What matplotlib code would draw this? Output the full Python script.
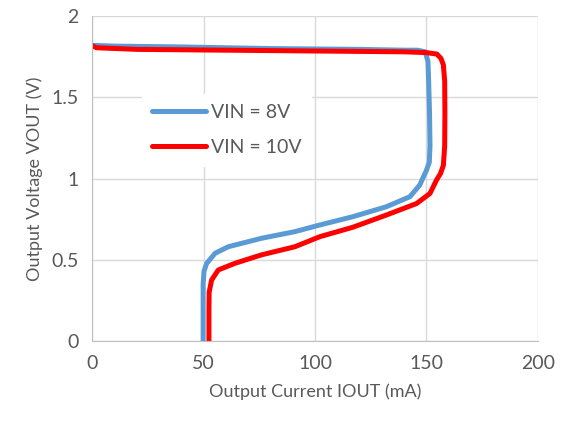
import matplotlib.pyplot as plt

# VIN = 8V curve (current mA, voltage V)
i_8v = [0, 10, 40, 80, 120, 140, 146, 149.5, 150.7, 151, 151.4, 151.6, 151.3, 150, 147, 142.6,
        132, 117, 102.2, 91, 76, 61.1, 55.2, 51.4, 50.2, 49.8, 49.8]
v_8v = [1.82, 1.815, 1.81, 1.80, 1.795, 1.79, 1.79, 1.78, 1.72, 1.6, 1.4, 1.2, 1.10, 1.05, 0.96, 0.888,
        0.826, 0.765, 0.714, 0.673, 0.632, 0.58, 0.54, 0.478, 0.43, 0.35, 0]

# VIN = 10V curve
i_10v = [0, 2, 20, 60, 100, 140, 150, 154.7, 156.5, 157.6, 158.2, 158.3, 158.2, 157.6, 156.3, 154.5,
         151.6, 145.6, 132, 117, 102.2, 91, 76, 64.1, 56.6, 53.6, 52.5, 52.4, 52.4]
v_10v = [1.817, 1.805, 1.795, 1.79, 1.785, 1.78, 1.775, 1.766, 1.74, 1.70, 1.6, 1.4, 1.2, 1.08, 1.03, 0.99,
         0.908, 0.846, 0.775, 0.70, 0.642, 0.58, 0.53, 0.478, 0.437, 0.375, 0.30, 0.2, 0]

x_ticks = [0, 50, 100, 150, 200]
y_ticks = [0, 0.5, 1, 1.5, 2]

plt.rcParams['font.family'] = ['Lato', 'DejaVu Sans']

fig = plt.figure(figsize=(5.62, 4.23), dpi=100)
ax = fig.add_axes([0.164, 0.194, 0.793, 0.768])

ax.plot(i_8v, v_8v, color='#5B9BD5', lw=3.6, solid_capstyle='round', solid_joinstyle='round', label='VIN = 8V')
ax.plot(i_10v, v_10v, color='#FF0000', lw=3.6, solid_capstyle='round', solid_joinstyle='round', label='VIN = 10V')

ax.set_xlim(0, 200)
ax.set_ylim(0, 2)
ax.set_xticks(x_ticks)
ax.set_yticks(y_ticks)
ax.set_yticklabels(['%g' % t for t in y_ticks])
ax.grid(True, color='#D9D9D9', lw=1)
ax.set_axisbelow(True)
ax.tick_params(length=0, labelsize=14, labelcolor='#595959', pad=10)

for s in ['top', 'right']:
    ax.spines[s].set_visible(False)
for s in ['left', 'bottom']:
    ax.spines[s].set_color('#BFBFBF')

ax.set_xlabel('Output Current IOUT (mA)', fontsize=13, color='#595959', labelpad=8)
ax.set_ylabel('Output Voltage VOUT (V)', fontsize=13, color='#595959', labelpad=6)

leg = ax.legend(loc='upper left', bbox_to_anchor=(0.09, 0.79), frameon=True, fontsize=14,
                handlelength=2.8, handletextpad=0.25, labelspacing=0.95, borderpad=0.5)
leg.get_frame().set_edgecolor('white')
leg.get_frame().set_alpha(1)
for t in leg.get_texts():
    t.set_color('#595959')

fig.savefig('out.png', dpi=100)
